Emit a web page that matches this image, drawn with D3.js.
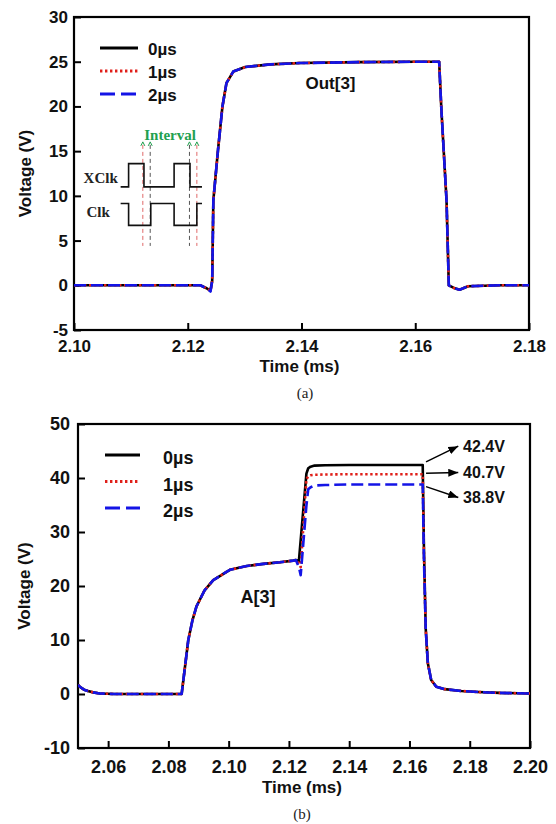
<!DOCTYPE html>
<html>
<head>
<meta charset="utf-8">
<script src="https://cdn.jsdelivr.net/npm/d3@7"></script>
<style>
  body { margin: 0; background: #fff; }
  svg { display: block; }
</style>
</head>
<body>
<svg id="chart" width="556" height="824"></svg>
<script>
// ---------------- DATA ----------------
const seriesNames = ["0\u00b5s", "1\u00b5s", "2\u00b5s"];

// Panel (a): Out[3]
const timeA = [2.1000, 2.1100, 2.1222, 2.1232, 2.1240, 2.1243, 2.1245, 2.1253, 2.1261, 2.1268, 2.1280, 2.1301, 2.1345, 2.1397, 2.1500, 2.1600, 2.1642, 2.1646, 2.1655, 2.1659, 2.1668, 2.1678, 2.1693, 2.1750, 2.1800];
const outA0 = [0, 0, 0, -0.3, -0.6, 0.5, 9.5, 15.0, 20.0, 22.6, 23.9, 24.4, 24.7, 24.85, 24.95, 25.0, 25.0, 19.6, 9.5, 0, -0.3, -0.5, -0.1, 0, 0];
const outA1 = [0, 0, 0, -0.3, -0.6, 0.5, 9.5, 15.0, 20.0, 22.6, 23.9, 24.4, 24.7, 24.85, 24.95, 25.0, 25.0, 19.6, 9.5, 0, -0.3, -0.5, -0.1, 0, 0];
const outA2 = [0, 0, 0, -0.3, -0.7, 0.5, 9.5, 15.0, 20.0, 22.6, 23.9, 24.4, 24.7, 24.85, 24.95, 25.0, 25.0, 19.6, 9.5, 0, -0.3, -0.5, -0.1, 0, 0];
const xTicksA = [2.10, 2.12, 2.14, 2.16, 2.18];
const yTicksA = [-5, 0, 5, 10, 15, 20, 25, 30];

// Inset schematic of panel (a), in the panel's own (time, voltage) units
const xclkT = [2.1082, 2.1096, 2.1096, 2.1123, 2.1123, 2.1176, 2.1176, 2.1204, 2.1204, 2.1225];
const xclkV = [11.0, 11.0, 13.6, 13.6, 11.0, 11.0, 13.6, 13.6, 11.0, 11.0];
const clkT  = [2.1082, 2.1096, 2.1096, 2.1135, 2.1135, 2.1176, 2.1176, 2.1216, 2.1216, 2.1225];
const clkV  = [9.15, 9.15, 6.7, 6.7, 9.15, 9.15, 6.7, 6.7, 9.15, 9.15];
const intervalT = [2.1121, 2.1134, 2.1203, 2.1216];
const intervalColors = ["#e06a6a", "#555555", "#555555", "#e06a6a"];
const intervalV = [15.7, 4.4];

// Panel (b): A[3]
const timeB = [2.0500, 2.0506, 2.0520, 2.0533, 2.0550, 2.0572, 2.0620, 2.0700, 2.0844, 2.0866, 2.0880, 2.0893, 2.0920, 2.0949, 2.1004, 2.1060, 2.1115, 2.1170, 2.1214, 2.1223, 2.1233, 2.1239, 2.1258, 2.1264, 2.1272, 2.1285, 2.1320, 2.1400, 2.1500, 2.1600, 2.1644, 2.1648, 2.1654, 2.1661, 2.1672, 2.1689, 2.1717, 2.1772, 2.1828, 2.1900, 2.2000];
const outB0 = [1.7, 1.35, 0.8, 0.55, 0.3, 0.1, 0, 0, 0, 10.0, 13.7, 16.2, 19.2, 21.1, 23.0, 23.7, 24.1, 24.4, 24.7, 24.8, 24.6, 28.5, 40.8, 41.8, 42.1, 42.3, 42.35, 42.4, 42.4, 42.4, 42.4, 27.0, 12.0, 5.7, 2.6, 1.35, 0.9, 0.55, 0.37, 0.2, 0.1];
const outB1 = [1.7, 1.35, 0.8, 0.55, 0.3, 0.1, 0, 0, 0, 10.0, 13.7, 16.2, 19.2, 21.1, 23.0, 23.7, 24.1, 24.4, 24.7, 24.8, 24.2, 23.5, 39.8, 40.3, 40.5, 40.6, 40.65, 40.7, 40.7, 40.7, 40.7, 26.0, 12.0, 5.7, 2.6, 1.35, 0.9, 0.55, 0.37, 0.2, 0.1];
const outB2 = [1.7, 1.35, 0.8, 0.55, 0.3, 0.1, 0, 0, 0, 10.0, 13.7, 16.2, 19.2, 21.1, 23.0, 23.7, 24.1, 24.4, 24.7, 24.8, 23.5, 22.0, 34.9, 37.9, 38.3, 38.6, 38.7, 38.8, 38.8, 38.8, 38.8, 25.0, 12.0, 5.7, 2.6, 1.35, 0.9, 0.55, 0.37, 0.2, 0.1];
const xTicksB = [2.06, 2.08, 2.10, 2.12, 2.14, 2.16, 2.18, 2.20];
const yTicksB = [-10, 0, 10, 20, 30, 40, 50];

// Annotations of panel (b)
const plateauLabels = ["42.4V", "40.7V", "38.8V"];
const arrowStartT = 2.1655;
const arrowStartV = [43.0, 40.9, 38.4];
const arrowTipT = 2.1762;
const labelV = [45.9, 41.0, 36.4];
const labelT = 2.1778;

// ---------------- STYLE ----------------
const SANS = "'Liberation Sans', Arial, sans-serif";
const SERIF = "'Liberation Serif', 'Times New Roman', serif";
const colors = ["#000000", "#e0201a", "#1414e6"];
const dashes = [null, "2.4,2.6", "12,5"];
const legDashes = [null, "2.4,2.6", "15,6"];
const lineWidth = 2.6;

const svg = d3.select("#chart");
svg.append("rect").attr("width", 556).attr("height", 824).attr("fill", "#fff");

const defs = svg.append("defs");
defs.append("marker").attr("id", "arrowhead")
  .attr("viewBox", "0 0 10 8").attr("refX", 10).attr("refY", 4)
  .attr("markerWidth", 10).attr("markerHeight", 8).attr("markerUnits", "userSpaceOnUse")
  .attr("orient", "auto")
  .append("path").attr("d", "M0,0 L10,4 L0,8 Z").attr("fill", "#000");

function txt(g, family) {
  return g.append("text").style("font-family", family);
}

function panel(cfg) {
  const g = svg.append("g");
  const x = d3.scaleLinear().domain(cfg.xDomain).range([cfg.left, cfg.right]);
  const y = d3.scaleLinear().domain(cfg.yDomain).range([cfg.bottom, cfg.top]);

  const clipId = "clip" + cfg.id;
  defs.append("clipPath").attr("id", clipId).append("rect")
    .attr("x", cfg.left).attr("y", cfg.top)
    .attr("width", cfg.right - cfg.left).attr("height", cfg.bottom - cfg.top);

  // axes with inward ticks
  const ax = g.append("g").attr("transform", `translate(0,${cfg.bottom})`)
    .call(d3.axisBottom(x).tickValues(cfg.xTicks).tickFormat(d3.format(".2f"))
      .tickSizeInner(-7).tickSizeOuter(0).tickPadding(cfg.xPad));
  const ay = g.append("g").attr("transform", `translate(${cfg.left},0)`)
    .call(d3.axisLeft(y).tickValues(cfg.yTicks).tickFormat(d => d < 0 ? "-" + Math.abs(d) : d)
      .tickSizeInner(-7).tickSizeOuter(0).tickPadding(cfg.yPad));
  [ax, ay].forEach(a => {
    a.attr("font-family", null).attr("font-size", null);
    a.select(".domain").remove();
    a.selectAll(".tick line").attr("stroke", "#000").attr("stroke-width", 2);
    a.selectAll(".tick text").attr("fill", "#111").attr("font-weight", "bold")
      .style("font-size", cfg.tickFont + "px").style("font-family", SANS);
  });

  // frame
  g.append("rect").attr("x", cfg.left).attr("y", cfg.top)
    .attr("width", cfg.right - cfg.left).attr("height", cfg.bottom - cfg.top)
    .attr("fill", "none").attr("stroke", "#000").attr("stroke-width", 2.2);

  // axis titles
  txt(g, SANS).attr("x", (cfg.left + cfg.right) / 2 - 2).attr("y", cfg.xTitleY)
    .attr("text-anchor", "middle").attr("font-weight", "bold").attr("font-size", cfg.titleFont)
    .attr("fill", "#111").text("Time (ms)");
  txt(g, SANS).attr("transform", `translate(${cfg.yTitleX},${(cfg.top + cfg.bottom) / 2}) rotate(-90)`)
    .attr("text-anchor", "middle").attr("font-weight", "bold").attr("font-size", cfg.titleFont)
    .attr("fill", "#111").text("Voltage (V)");
  txt(g, SERIF).attr("x", cfg.captionX).attr("y", cfg.captionY).attr("text-anchor", "middle")
    .attr("font-size", 15).attr("fill", "#222").text(cfg.caption);

  // data lines: black, red dotted, blue dashed on top
  const line = d3.line().x(d => x(d[0])).y(d => y(d[1]));
  const lg = g.append("g").attr("clip-path", `url(#${clipId})`);
  cfg.series.forEach((vals, i) => {
    const pts = cfg.time.map((t, k) => [t, vals[k]]);
    lg.append("path").datum(pts).attr("d", line).attr("fill", "none")
      .attr("stroke", colors[i]).attr("stroke-width", lineWidth)
      .attr("stroke-linejoin", "round")
      .attr("stroke-dasharray", dashes[i]);
  });

  // legend
  seriesNames.forEach((name, i) => {
    const ly = cfg.legY + i * cfg.legStep;
    g.append("line").attr("x1", cfg.legX1).attr("x2", cfg.legX2).attr("y1", ly).attr("y2", ly)
      .attr("stroke", colors[i]).attr("stroke-width", lineWidth + 0.4)
      .attr("stroke-dasharray", legDashes[i]);
    txt(g, SANS).attr("x", cfg.legTextX).attr("y", ly + cfg.legDy)
      .attr("font-weight", "bold").attr("font-size", cfg.legFont).attr("fill", "#111").text(name);
  });

  // panel label
  txt(g, SANS).attr("x", x(cfg.nameT)).attr("y", y(cfg.nameV))
    .attr("font-weight", "bold").attr("font-size", cfg.nameFont).attr("fill", "#111").text(cfg.name);

  return { g, x, y };
}

// Panel (a)
const pa = panel({
  id: "a", left: 74, right: 529, top: 17, bottom: 330,
  xDomain: [2.10, 2.18], yDomain: [-5, 30], xTicks: xTicksA, yTicks: yTicksA,
  xPad: 10, yPad: 6, tickFont: 17, titleFont: 17,
  xTitleY: 372, yTitleX: 31, caption: "(a)", captionX: 305, captionY: 398,
  time: timeA, series: [outA0, outA1, outA2],
  legY: 48, legStep: 23, legX1: 100, legX2: 138, legTextX: 148, legDy: 7, legFont: 17,
  name: "Out[3]", nameT: 2.1407, nameV: 22.0, nameFont: 17
});

// inset schematic
(function () {
  const { g, x, y } = pa;
  const wl = d3.line().x(d => x(d[0])).y(d => y(d[1]));
  intervalT.forEach((t, i) => {
    g.append("line").attr("x1", x(t)).attr("x2", x(t))
      .attr("y1", y(intervalV[0])).attr("y2", y(intervalV[1]))
      .attr("stroke", intervalColors[i]).attr("stroke-width", 1)
      .attr("stroke-dasharray", "4,3");
    const tx = x(t), ty = y(intervalV[0]);
    g.append("path").attr("d", `M${tx - 2},${ty + 1} L${tx},${ty - 3} L${tx + 2},${ty + 1}`)
      .attr("fill", "none").attr("stroke", "#22a050").attr("stroke-width", 1);
  });
  [[xclkT, xclkV], [clkT, clkV]].forEach(([ts, vs]) => {
    g.append("path").datum(ts.map((t, k) => [t, vs[k]])).attr("d", wl)
      .attr("fill", "none").attr("stroke", "#111").attr("stroke-width", 1.6);
  });
  txt(g, SERIF).attr("x", x(2.1077)).attr("y", y(11.45)).attr("text-anchor", "end")
    .attr("font-weight", "bold").attr("font-size", 15).attr("fill", "#222").text("XClk");
  txt(g, SERIF).attr("x", x(2.1063)).attr("y", y(7.67)).attr("text-anchor", "end")
    .attr("font-weight", "bold").attr("font-size", 15).attr("fill", "#222").text("Clk");
  txt(g, SERIF).attr("x", x(2.1169)).attr("y", y(16.25)).attr("text-anchor", "middle")
    .attr("font-weight", "bold").attr("font-size", 15).attr("fill", "#22a050").text("Interval");
})();

// Panel (b)
const pb = panel({
  id: "b", left: 78, right: 530, top: 424, bottom: 748,
  xDomain: [2.05, 2.20], yDomain: [-10, 50], xTicks: xTicksB, yTicks: yTicksB,
  xPad: 12, yPad: 8, tickFont: 18, titleFont: 17,
  xTitleY: 793, yTitleX: 30, caption: "(b)", captionX: 302, captionY: 819,
  time: timeB, series: [outB0, outB1, outB2],
  legY: 455, legStep: 26.5, legX1: 105, legX2: 140, legTextX: 163, legDy: 9, legFont: 18,
  name: "A[3]", nameT: 2.1039, nameV: 16.8, nameFont: 18
});

(function () {
  const { g, x, y } = pb;
  plateauLabels.forEach((lab, i) => {
    g.append("line").attr("x1", x(arrowStartT)).attr("y1", y(arrowStartV[i]))
      .attr("x2", x(arrowTipT)).attr("y2", y(labelV[i]))
      .attr("stroke", "#000").attr("stroke-width", 1.5).attr("marker-end", "url(#arrowhead)");
    txt(g, SANS).attr("x", x(labelT)).attr("y", y(labelV[i])).attr("dy", "0.36em")
      .attr("font-weight", "bold").attr("font-size", 16).attr("fill", "#111").text(lab);
  });
})();
</script>
</body>
</html>
